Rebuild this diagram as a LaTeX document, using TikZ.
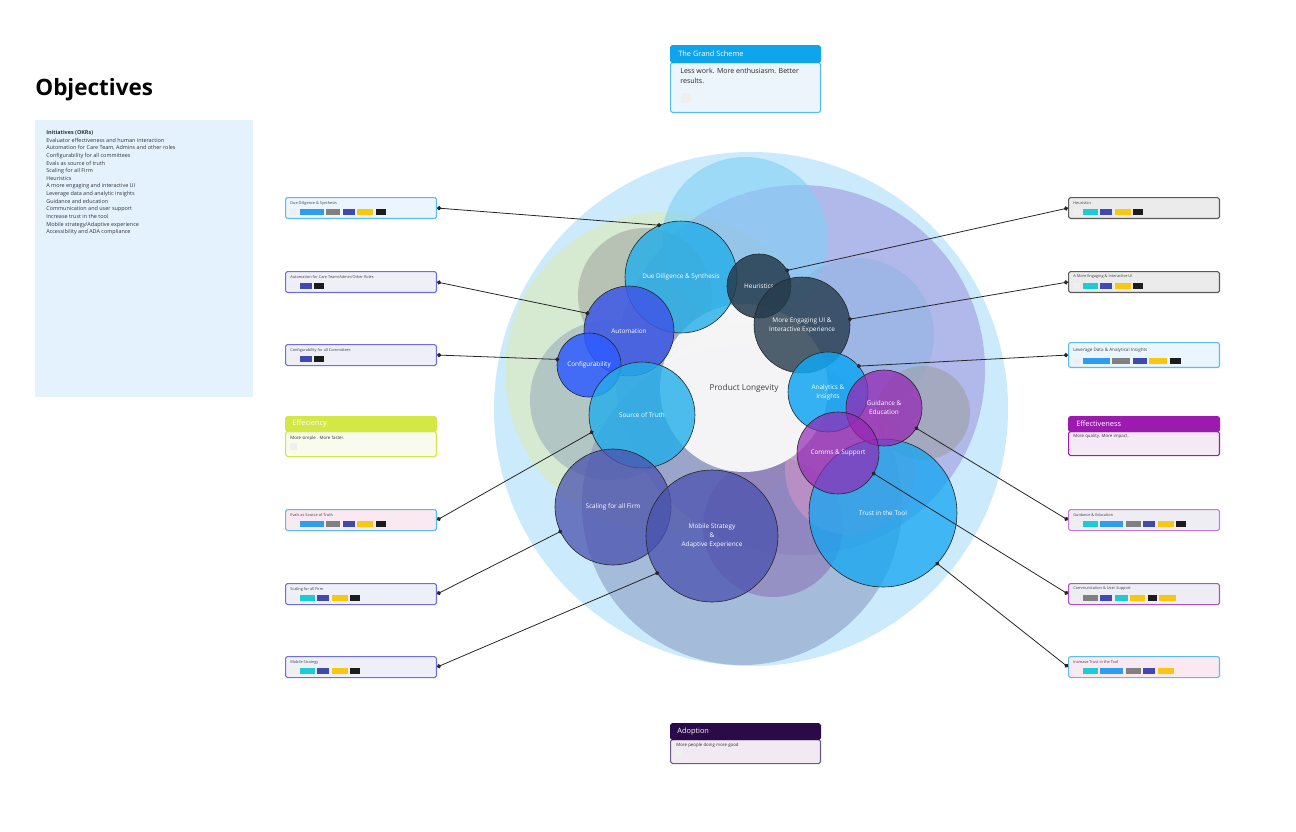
\documentclass[tikz,border=0pt]{standalone}
\usepackage{fontspec}
\setmainfont{Open Sans}
\usetikzlibrary{positioning,calc,arrows.meta}

% palette
\definecolor{ringBlue}{HTML}{CBEAFB}
\definecolor{blobCyan}{HTML}{7FD0F5}
\definecolor{blobPurple}{HTML}{9C8FDD}
\definecolor{blobGreen}{HTML}{D9EBC8}
\definecolor{blobGray}{HTML}{9A9C98}
\definecolor{blobSlate}{HTML}{8FA3B8}
\definecolor{blobNavy}{HTML}{8596C0}
\definecolor{blobMauve}{HTML}{8A68B0}
\definecolor{blobPink}{HTML}{DE98C4}
\definecolor{blobSky}{HTML}{86B4E2}
\definecolor{coreWhite}{HTML}{F8F8F8}
\definecolor{bubCyan}{HTML}{22AEEA}
\definecolor{bubSky}{HTML}{12A6F2}
\definecolor{bubSlate}{HTML}{253B4D}
\definecolor{bubBlue}{HTML}{3C58E6}
\definecolor{bubBright}{HTML}{2F5CFF}
\definecolor{bubPurple}{HTML}{9528B5}
\definecolor{bubIndigo}{HTML}{4A52AE}
\definecolor{panelBlue}{HTML}{E3F2FD}
\definecolor{cardBlue}{HTML}{EAF5FD}
\definecolor{cardLav}{HTML}{EFEFF8}
\definecolor{cardPink}{HTML}{FBE9F1}
\definecolor{cardGray}{HTML}{EBEBEB}
\definecolor{cardMist}{HTML}{EFEDF4}
\definecolor{lineCyan}{HTML}{58BDF0}
\definecolor{lineViolet}{HTML}{6E6EDC}
\definecolor{lineDark}{HTML}{5A5A5A}
\definecolor{lineOrchid}{HTML}{C47BD8}
\definecolor{lineMagenta}{HTML}{B04FC8}
\definecolor{chipLight}{HTML}{EFEFEF}
\definecolor{chipCyan}{HTML}{1CCAD8}
\definecolor{chipBlue}{HTML}{2E9DF0}
\definecolor{chipGray}{HTML}{808080}
\definecolor{chipIndigo}{HTML}{4049B0}
\definecolor{chipYellow}{HTML}{FAC710}
\definecolor{chipBlack}{HTML}{1C1C1C}
\definecolor{gsHead}{HTML}{0EA5EC}
\definecolor{gsBody}{HTML}{EDF5FC}
\definecolor{efLime}{HTML}{D3E745}
\definecolor{efBody}{HTML}{F9FBEC}
\definecolor{evPurple}{HTML}{9C1AAF}
\definecolor{evBody}{HTML}{F6E9F6}
\definecolor{adHead}{HTML}{2B0B47}
\definecolor{adLine}{HTML}{6E5A8A}
\definecolor{adBody}{HTML}{F2EAF3}

% row of colour chips under a card label
\newcommand{\chiprow}[2]{%
  \node[chip=7, fill=chipLight, anchor=south west] (#1-0) at ($(#1.south west)+(5,-4)$) {};
  \foreach \chipcol/\chipw [count=\i, remember=\i as \j (initially 0)] in {#2}
    \node[chip=\chipw, fill=\chipcol, right=1pt of #1-\j] (#1-\i) {};
}

\begin{document}
\begin{tikzpicture}[x=0.02cm, y=-0.02cm,
    bubble/.style={circle, draw=black!85, line width=0.35pt, minimum size=#1*0.04cm, inner sep=0pt,
      fill opacity=0.8, text opacity=1, align=center, text=white, font=\fontsize{3.65}{5.1}\selectfont},
    card/.style={rectangle, rounded corners=1pt, line width=0.6pt, anchor=north west,
      minimum width=3.02cm, minimum height=0.42cm, inner sep=0pt},
    cardtext/.style={anchor=west, inner sep=0pt, text=black!75, font=\fontsize{2.2}{2.6}\selectfont},
    headtext/.style={anchor=west, inner sep=0pt, text=white, font=\fontsize{4.2}{5}\selectfont},
    bodytext/.style={anchor=west, inner sep=0pt, text=black!80, font=\fontsize{2.5}{3}\selectfont},
    holder/.style={rectangle, fill=chipLight, inner sep=0pt, minimum size=#1*0.02cm, anchor=north west},
    chip/.style={rectangle, inner sep=0pt, minimum width=#1*0.02cm, minimum height=0.12cm},
    link/.style={line width=0.45pt, draw=black!85, {Circle[length=2.4pt]}-{Circle[length=2.4pt]}, shorten >=-1.2pt}]

    \fill[white] (0,0) rectangle (1296,832);
    \useasboundingbox (0,0) rectangle (1296,832);

    % Title and initiatives list
    \node[anchor=west, inner sep=0pt, font=\fontsize{12.8}{15}\selectfont\bfseries] (title) at (35,90) {Objectives};
    \node[fill=panelBlue, anchor=north west, inner sep=0pt, minimum width=4.36cm, minimum height=5.54cm] (okrpanel) at (35,120) {};
    \node[anchor=north west, inner sep=0pt, align=left, text=black!80, font=\fontsize{3.1}{4.35}\selectfont] (okrlist) at (46,130)
      {\textbf{Initiatives (OKRs)}\\Evaluator effectiveness and human interaction\\Automation for Care Team, Admins and other roles\\
       Configurability for all committees\\Evals as source of truth\\Scaling for all Firm\\Heuristics\\
       A more engaging and interactive UI\\Leverage data and analytic insights\\Guidance and education\\
       Communication and user support\\Increase trust in the tool\\Mobile strategy/Adaptive experience\\
       Accessibility and ADA compliance};

    % Background blobs
    \fill[ringBlue] (751,409) circle[radius=257];
    \fill[blobGreen, fill opacity=0.8] (665,372) circle[radius=160];
    \fill[blobPurple, fill opacity=0.55] (800,370) circle[radius=185];
    \fill[blobCyan, fill opacity=0.6] (745,240) circle[radius=83];
    \fill[blobSky, fill opacity=0.45] (857,335) circle[radius=77];
    \fill[blobGray, fill opacity=0.5] (645,295) circle[radius=67];
    \fill[blobSlate, fill opacity=0.5] (610,400) circle[radius=80];
    \fill[blobNavy, fill opacity=0.55] (742,505) circle[radius=160];
    \fill[blobMauve, fill opacity=0.5] (773,527) circle[radius=70];
    \fill[blobPink, fill opacity=0.5] (850,470) circle[radius=65];
    \fill[blobGray, fill opacity=0.5] (923,413) circle[radius=47];

    \node[circle, fill=coreWhite, fill opacity=0.96, text opacity=1, minimum size=3.36cm, inner sep=0pt,
      text=black!75, font=\fontsize{4.7}{5.5}\selectfont] (core) at (744,388) {Product Longevity};

    % Initiative bubbles
    \node[bubble=56, fill=bubCyan] (dd) at (681,277) {Due Diligence \& Synthesis};
    \node[bubble=32, fill=bubSlate, fill opacity=0.85] (heur) at (759,286) {Heuristics};
    \node[bubble=48, fill=bubSlate] (ui) at (802,325) {More Engaging UI \&\\Interactive Experience};
    \node[bubble=45, fill=bubBlue, fill opacity=0.85] (auto) at (629,331) {Automation};
    \node[bubble=32, fill=bubBright, fill opacity=0.85] (config) at (589,365) {Configurability};
    \node[bubble=53, fill=bubCyan] (truth) at (642,415) {Source of Truth};
    \node[bubble=58, fill=bubIndigo, fill opacity=0.75] (scale) at (613,507) {Scaling for all Firm};
    \node[bubble=66, fill=bubIndigo, fill opacity=0.75] (mobile) at (712,536) {Mobile Strategy\\\&\\Adaptive Experience};
    \node[bubble=40, fill=bubSky, fill opacity=0.85] (anly) at (828,392) {Analytics \&\\Insights};
    \node[bubble=74, fill=bubSky, fill opacity=0.75] (trust) at (883,513) {Trust in the Tool};
    \node[bubble=38, fill=bubPurple, fill opacity=0.75] (guide) at (884,408) {Guidance \&\\Education};
    \node[bubble=41, fill=bubPurple, fill opacity=0.7] (comms) at (838,453) {Comms \& Support};

    % Left cards
    \node[card, fill=cardBlue, draw=lineCyan] (ddc) at (285,197) {};
    \node[cardtext] (ddt) at ($(ddc.north west)+(5,6)$) {Due Diligence \& Synthesis};
    \chiprow{ddc}{chipBlue/24,chipGray/14,chipIndigo/12,chipYellow/16,chipBlack/10}
    \node[card, fill=cardLav, draw=lineViolet] (autoc) at (285,271) {};
    \node[cardtext] (autot) at ($(autoc.north west)+(5,6)$) {Automation for Care Team/Admin/Other Roles};
    \chiprow{autoc}{chipIndigo/12,chipBlack/10}
    \node[card, fill=cardLav, draw=lineViolet] (configc) at (285,344) {};
    \node[cardtext] (configt) at ($(configc.north west)+(5,6)$) {Configurability for all Committees};
    \chiprow{configc}{chipIndigo/12,chipBlack/10}
    \node[card, fill=cardPink, draw=lineCyan] (truthc) at (285,509) {};
    \node[cardtext] (trutht) at ($(truthc.north west)+(5,6)$) {Evals as Source of Truth};
    \chiprow{truthc}{chipBlue/24,chipGray/14,chipIndigo/12,chipYellow/16,chipBlack/10}
    \node[card, fill=cardLav, draw=lineViolet] (scalec) at (285,583) {};
    \node[cardtext] (scalet) at ($(scalec.north west)+(5,6)$) {Scaling for all Firm};
    \chiprow{scalec}{chipCyan/15,chipIndigo/12,chipYellow/16,chipBlack/10}
    \node[card, fill=cardLav, draw=lineViolet] (mobilec) at (285,656) {};
    \node[cardtext] (mobilet) at ($(mobilec.north west)+(5,6)$) {Mobile Strategy};
    \chiprow{mobilec}{chipCyan/15,chipIndigo/12,chipYellow/16,chipBlack/10}

    % Right cards
    \node[card, fill=cardGray, draw=lineDark] (heurc) at (1068,197) {};
    \node[cardtext] (heurt) at ($(heurc.north west)+(5,6)$) {Heuristics};
    \chiprow{heurc}{chipCyan/15,chipIndigo/12,chipYellow/16,chipBlack/10}
    \node[card, fill=cardGray, draw=lineDark] (uic) at (1068,271) {};
    \node[cardtext] (uit) at ($(uic.north west)+(5,6)$) {A More Engaging \& Interactive UI};
    \chiprow{uic}{chipCyan/15,chipIndigo/12,chipYellow/16,chipBlack/10}
    \node[card, fill=cardBlue, draw=lineCyan, minimum height=0.5cm] (anlyc) at (1068,342) {};
    \node[cardtext, font=\fontsize{2.6}{3}\selectfont] (anlyt) at ($(anlyc.north west)+(5,8)$) {Leverage Data \& Analytical Insights};
    \chiprow{anlyc}{chipBlue/27,chipGray/18,chipIndigo/14,chipYellow/18,chipBlack/11}
    \node[card, fill=cardMist, draw=lineOrchid] (guidec) at (1068,509) {};
    \node[cardtext] (guidet) at ($(guidec.north west)+(5,6)$) {Guidance \& Education};
    \chiprow{guidec}{chipCyan/15,chipBlue/23,chipGray/15,chipIndigo/12,chipYellow/16,chipBlack/10}
    \node[card, fill=cardMist, draw=lineMagenta] (commsc) at (1068,583) {};
    \node[cardtext] (commst) at ($(commsc.north west)+(5,6)$) {Communication \& User Support};
    \chiprow{commsc}{chipGray/15,chipIndigo/12,chipCyan/13,chipYellow/15,chipBlack/9,chipYellow/17}
    \node[card, fill=cardPink, draw=lineCyan] (trustc) at (1068,656) {};
    \node[cardtext] (trustt) at ($(trustc.north west)+(5,6)$) {Increase Trust in the Tool};
    \chiprow{trustc}{chipCyan/15,chipBlue/23,chipGray/15,chipIndigo/12,chipYellow/16}

    % Header cards
    \node[card, fill=gsBody, draw=lineCyan, minimum width=3cm, minimum height=1cm] (gsbody) at (670,62) {};
    \node[card, fill=gsHead, draw=gsHead, minimum width=3cm, minimum height=0.34cm] (gshead) at (670,45) {};
    \node[headtext] (gstitle) at ($(gshead.west)+(8,0)$) {The Grand Scheme};
    \node[anchor=north west, inner sep=0pt, align=left, text=black!85, font=\fontsize{4}{5.7}\selectfont] (gstext) at ($(gsbody.north west)+(10,6)$)
      {Less work. More enthusiasm. Better\\results.};
    \node[holder=10] (gshold) at ($(gsbody.north west)+(11,31)$) {};

    \node[card, fill=efBody, draw=efLime, minimum height=0.5cm] (efbody) at (285,431) {};
    \node[card, fill=efLime, draw=efLime, minimum height=0.3cm] (efhead) at (285,416) {};
    \node[headtext] (eftitle) at ($(efhead.west)+(7,0)$) {Effeciency};
    \node[bodytext] (eftext) at ($(efbody.north west)+(5,7)$) {More simple . More faster.};
    \node[holder=7] (efhold) at ($(efbody.north west)+(5,12)$) {};

    \node[card, fill=evBody, draw=evPurple, minimum height=0.48cm] (evbody) at (1068,431) {};
    \node[card, fill=evPurple, draw=evPurple, minimum height=0.3cm] (evhead) at (1068,416) {};
    \node[headtext] (evtitle) at ($(evhead.west)+(8,0)$) {Effectiveness};
    \node[bodytext] (evtext) at ($(evbody.north west)+(5,5)$) {More quality. More impact.};
    \node[holder=7] (evhold) at ($(evbody.north west)+(5,11)$) {};

    \node[card, fill=adBody, draw=adLine, minimum width=3cm, minimum height=0.48cm] (adbody) at (670,739) {};
    \node[card, fill=adHead, draw=adHead, minimum width=3cm, minimum height=0.32cm] (adhead) at (670,723) {};
    \node[headtext] (adtitle) at ($(adhead.west)+(7,0)$) {Adoption};
    \node[bodytext] (adtext) at ($(adbody.north west)+(6,6)$) {More people doing more good};
    \node[holder=7] (adhold) at ($(adbody.north west)+(6,12)$) {};

    % Connectors
    \draw[link] (ddc.east) -- (dd.113);
    \draw[link] (autoc.east) -- (auto.157);
    \draw[link] (configc.east) -- (config.170);
    \draw[link] (truthc.east) -- (truth.199);
    \draw[link] (scalec.east) -- (scale.205);
    \draw[link] (mobilec.east) -- (mobile.214);
    \draw[link] (heurc.west) -- (heur.29);
    \draw[link] (uic.west) -- (ui.7);
    \draw[link] (anlyc.west) -- (anly.40);
    \draw[link] (guidec.west) -- (guide.328);
    \draw[link] (commsc.west) -- (comms.330);
    \draw[link] (trustc.west) -- (trust.317);
\end{tikzpicture}
\end{document}
